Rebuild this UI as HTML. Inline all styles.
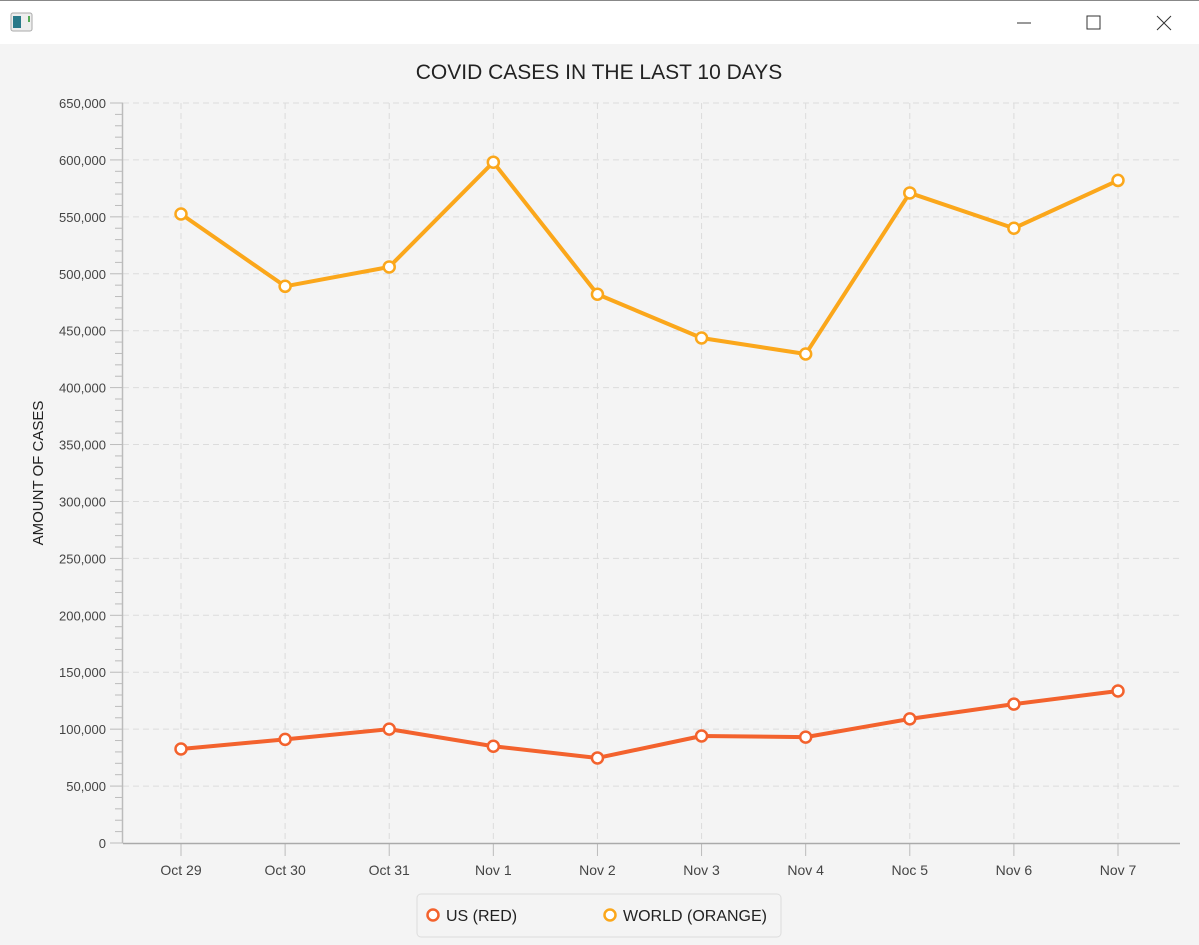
<!DOCTYPE html>
<html><head><meta charset="utf-8"><style>
body{margin:0;width:1199px;height:945px;background:#f4f4f4;font-family:"Liberation Sans",sans-serif;overflow:hidden}
#bar{position:absolute;left:0;top:0;width:1199px;height:44px;background:#fff;border-top:1px solid #888;box-sizing:border-box}
</style></head><body>
<div id="bar">
<svg width="1199" height="44" style="position:absolute;left:0;top:0">
<g><rect x="11" y="12" width="21" height="18" rx="2" fill="#eee" stroke="#aaa"/><rect x="13" y="15" width="8" height="12" fill="#2a7a8a"/><rect x="28" y="15" width="2" height="6" fill="#5a5"/></g>
<line x1="1017" y1="22" x2="1031" y2="22" stroke="#333"/>
<rect x="1087" y="15" width="13" height="13" fill="none" stroke="#333"/>
<path d="M1157 15L1171 29M1171 15L1157 29" stroke="#333"/>
</svg></div>
<svg id="chart" width="1199" height="945" style="position:absolute;left:0;top:0"></svg>
<script>
const categories=["Oct 29","Oct 30","Oct 31","Nov 1","Nov 2","Nov 3","Nov 4","Noc 5","Nov 6","Nov 7"];
const usValues=[82600,91000,100000,85000,74700,94000,93000,109000,122000,133500];
const worldValues=[552500,489000,506000,598000,482000,443600,429500,571000,540000,582000];
const yTicks=[0,50000,100000,150000,200000,250000,300000,350000,400000,450000,500000,550000,600000,650000];
const NS="http://www.w3.org/2000/svg",svg=document.getElementById('chart');
const L=123,R=1180,T=103,B=843,yMax=650000;
const y=v=>B-(v/yMax)*(B-T);
const x=i=>181+i*(1118-181)/(categories.length-1);
function el(t,a,p){const e=document.createElementNS(NS,t);for(const k in a)e.setAttribute(k,a[k]);(p||svg).appendChild(e);return e;}
const title=el('text',{x:599,y:79,'text-anchor':'middle','font-size':21,fill:'#222'});title.textContent='COVID CASES IN THE LAST 10 DAYS';


const yt=el('text',{transform:'translate(43,473) rotate(-90)','text-anchor':'middle','font-size':15,fill:'#222'});yt.textContent='AMOUNT OF CASES';


yTicks.forEach((v,k)=>{
 if(v>0){const g=el('line',{x1:L,x2:R,y1:y(v),y2:y(v),stroke:'#dcdcdc','stroke-dasharray':'6 4'});}
 const t=el('line',{x1:110,x2:L,y1:y(v),y2:y(v),stroke:'#bbb'});
 const lb=el('text',{x:106,y:y(v)+5,'text-anchor':'end','font-size':13,fill:'#444'});lb.textContent=v.toLocaleString('en-US');
 
 
 if(k<yTicks.length-1)for(let m=1;m<5;m++){const yy=y(v+(yTicks[1]-yTicks[0])*m/5);const mt=el('line',{x1:115,x2:L,y1:yy,y2:yy,stroke:'#bbb'});}
});
categories.forEach((c,i)=>{
 const g=el('line',{x1:x(i),x2:x(i),y1:T,y2:B,stroke:'#dcdcdc','stroke-dasharray':'6 4'});
 const t=el('line',{x1:x(i),x2:x(i),y1:B,y2:856,stroke:'#bbb'});
 const lb=el('text',{x:x(i),y:875,'text-anchor':'middle','font-size':14,fill:'#444'});lb.textContent=c;
 
 
});
const ax=el('line',{x1:L-0.5,x2:L-0.5,y1:T,y2:B,stroke:'#bbb','stroke-width':1.5});
const axx=el('line',{x1:L,x2:R,y1:B+0.5,y2:B+0.5,stroke:'#aaa','stroke-width':1.5});
function series(vals,col,name){
 const p=el('polyline',{points:vals.map((v,i)=>x(i)+','+y(v)).join(' '),fill:'none',stroke:col,'stroke-width':4,'stroke-linejoin':'round'});
 
 vals.forEach((v,i)=>{const c=el('circle',{cx:x(i),cy:y(v),r:5.5,fill:'#fff',stroke:col,'stroke-width':2.5});});
}
series(usValues,'#f3622d','us');
series(worldValues,'#fba71b','world');
const lg=el('rect',{x:417,y:894,width:364,height:43,rx:4,fill:'#f4f4f4',stroke:'#ddd'});
[['US (RED)','#f3622d',433,'legend-entry-us'],['WORLD (ORANGE)','#fba71b',610,'legend-entry-world']].forEach(([t,c,lx,n])=>{
 const ci=el('circle',{cx:lx,cy:915,r:5.5,fill:'#fff',stroke:c,'stroke-width':2.5});
 const tx=el('text',{x:lx+13,y:921,'font-size':16,fill:'#222'});tx.textContent=t;
});
</script>
</body></html>
